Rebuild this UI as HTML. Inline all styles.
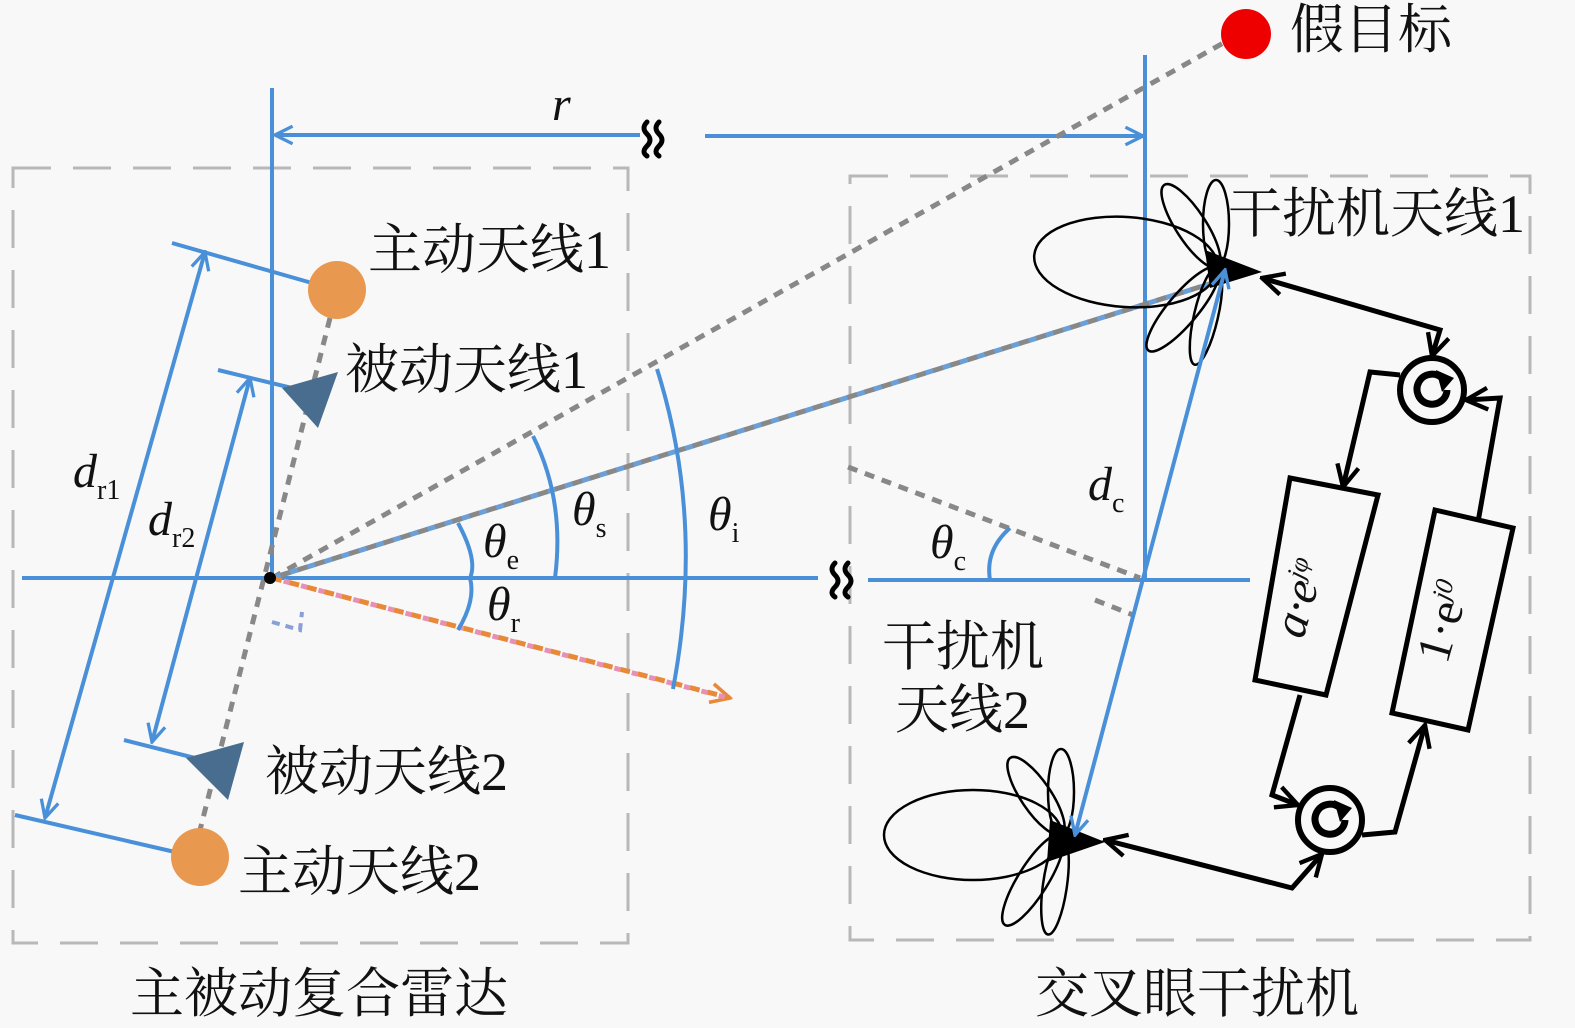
<!DOCTYPE html>
<html><head><meta charset="utf-8"><style>
html,body{margin:0;padding:0;background:#f8f8f8}
svg{display:block}
.cjk{font-family:"Liberation Serif","Noto Serif CJK SC","Noto Sans CJK SC",serif;font-size:54px;fill:#111}
.m{font-family:"Liberation Serif",serif;font-style:italic;font-size:48px;fill:#111}
.s{font-family:"Liberation Serif",serif;font-size:28px;fill:#111;font-style:normal}
</style></head><body>
<svg width="1575" height="1028" viewBox="0 0 1575 1028" xmlns="http://www.w3.org/2000/svg">
<defs>
<marker id="ob" viewBox="0 0 20 20" refX="18" refY="10" markerWidth="22" markerHeight="22" markerUnits="userSpaceOnUse" orient="auto-start-reverse"><path d="M2,2 L18,10 L2,18" fill="none" stroke="#4a90d9" stroke-width="3"/></marker>
<marker id="obk" viewBox="0 0 24 24" refX="22" refY="12" markerWidth="26" markerHeight="26" markerUnits="userSpaceOnUse" orient="auto-start-reverse"><path d="M2,2 L22,12 L2,22" fill="none" stroke="#000" stroke-width="4"/></marker>
<marker id="oo" viewBox="0 0 20 20" refX="18" refY="10" markerWidth="24" markerHeight="24" markerUnits="userSpaceOnUse" orient="auto"><path d="M2,2 L18,10 L2,18" fill="none" stroke="#e8893a" stroke-width="3"/></marker>
</defs>
<rect width="1575" height="1028" fill="#f8f8f8"/>
<rect x="13" y="168" width="615" height="775" fill="none" stroke="#b8b8b8" stroke-width="3" stroke-dasharray="38 22"/>
<rect x="850" y="176" width="680" height="764" fill="none" stroke="#b8b8b8" stroke-width="3" stroke-dasharray="38 22"/>

<g stroke="#4a90d9" stroke-width="4" fill="none">
<line x1="272" y1="88" x2="272" y2="578"/>
<line x1="22" y1="578" x2="818" y2="578"/>
<line x1="868" y1="580" x2="1250" y2="580"/>
<line x1="1145" y1="55" x2="1145" y2="580"/>
<line x1="275" y1="135" x2="640" y2="135" marker-start="url(#ob)"/>
<line x1="705" y1="136" x2="1143" y2="136" marker-end="url(#ob)"/>
</g>
<g stroke="#000" stroke-width="5" fill="none" stroke-linecap="round">
<path d="M647,122 q-6,6 0,12 q6,6 0,12 q-6,6 0,10"/><path d="M659,122 q-6,6 0,12 q6,6 0,12 q-6,6 0,10"/>
<path d="M835,563 q-6,6 0,12 q6,6 0,12 q-6,6 0,10"/><path d="M848,563 q-6,6 0,12 q6,6 0,12 q-6,6 0,10"/>
</g>
<text x="552" y="120" class="m">r</text>

<g fill="none" stroke-width="5">
<line x1="272" y1="578" x2="1225" y2="42" stroke="#888" stroke-dasharray="10 8"/>
<line x1="272" y1="578" x2="1222" y2="280" stroke="#6a9fd8" stroke-dasharray="10 8"/>
<line x1="272" y1="578" x2="1222" y2="280" stroke="#888" stroke-dasharray="10 8" stroke-dashoffset="9"/>
<line x1="272" y1="578" x2="730" y2="698" stroke="#e8893a" stroke-dasharray="10 8" marker-end="url(#oo)"/>
<line x1="272" y1="578" x2="728" y2="698" stroke="#e88fb5" stroke-dasharray="6 12" stroke-dashoffset="6"/>
<line x1="848" y1="467" x2="1140" y2="578" stroke="#888" stroke-dasharray="10 8"/>
<line x1="1095" y1="600" x2="1133" y2="615" stroke="#888" stroke-dasharray="10 8"/>
<line x1="330" y1="318" x2="200" y2="830" stroke="#888" stroke-dasharray="10 8"/>
<path d="M272,622 L300,630 L302,612" stroke="#8a9fd8" stroke-width="4" stroke-dasharray="8 6"/>
</g>
<g fill="none" stroke="#4a90d9" stroke-width="4">
<path d="M458,523 Q478,560 470,578 Q476,600 458,630"/>
<path d="M533,436 Q565,500 555,578"/>
<path d="M657,369 Q705,520 673,689"/>
<path d="M1010,528 Q985,550 990,580"/>
</g>
<text x="483" y="557" class="m">θ<tspan class="s" dy="12">e</tspan></text>
<text x="572" y="525" class="m">θ<tspan class="s" dy="12">s</tspan></text>
<text x="708" y="530" class="m">θ<tspan class="s" dy="12">i</tspan></text>
<text x="487" y="620" class="m">θ<tspan class="s" dy="12">r</tspan></text>
<text x="930" y="558" class="m">θ<tspan class="s" dy="12">c</tspan></text>
<text x="1088" y="500" class="m">d<tspan class="s" dy="12">c</tspan></text>
<text x="73" y="487" class="m">d<tspan class="s" dy="12">r1</tspan></text>
<text x="148" y="535" class="m">d<tspan class="s" dy="12">r2</tspan></text>

<g stroke="#4a90d9" stroke-width="4" fill="none">
<line x1="172" y1="243" x2="312" y2="283"/>
<line x1="15" y1="815" x2="175" y2="852"/>
<line x1="218" y1="370" x2="292" y2="388"/>
<line x1="124" y1="740" x2="195" y2="758"/>
<line x1="205" y1="252" x2="45" y2="818" marker-start="url(#ob)" marker-end="url(#ob)"/>
<line x1="250" y1="378" x2="152" y2="742" marker-start="url(#ob)" marker-end="url(#ob)"/>
</g>
<circle cx="270" cy="578" r="6" fill="#000"/>
<circle cx="337" cy="290" r="29" fill="#e8984f"/>
<circle cx="200" cy="857" r="29" fill="#e8984f"/>
<polygon points="282,388 338,372 318,428" fill="#486d8e"/>
<polygon points="186,758 244,742 228,800" fill="#486d8e"/>
<circle cx="1246" cy="34" r="25" fill="#ee0000"/>

<text x="368" y="268" class="cjk">主动天线1</text>
<text x="345" y="388" class="cjk">被动天线1</text>
<text x="265" y="790" class="cjk">被动天线2</text>
<text x="238" y="890" class="cjk">主动天线2</text>
<text x="1290" y="48" class="cjk">假目标</text>
<text x="1228" y="232" class="cjk">干扰机天线1</text>
<text x="882" y="665" class="cjk">干扰机</text>
<text x="895" y="728" class="cjk">天线2</text>
<text x="130" y="1012" class="cjk">主被动复合雷达</text>
<text x="1035" y="1012" class="cjk">交叉眼干扰机</text>

<g fill="none" stroke="#000" stroke-width="2.5">
<ellipse cx="1126" cy="262" rx="92" ry="45" transform="rotate(4 1126 262)"/>
<ellipse cx="1191" cy="226" rx="49" ry="15" transform="rotate(57 1191 226)"/>
<ellipse cx="1216" cy="224" rx="44" ry="13" transform="rotate(90 1216 224)"/>
<ellipse cx="1183" cy="309" rx="54" ry="15" transform="rotate(130 1183 309)"/>
<ellipse cx="1206" cy="316" rx="50" ry="12" transform="rotate(103 1206 316)"/>
<ellipse cx="973" cy="835" rx="89" ry="45"/>
<ellipse cx="1036" cy="796" rx="46" ry="15" transform="rotate(56 1036 796)"/>
<ellipse cx="1061" cy="792" rx="43" ry="13" transform="rotate(90 1061 792)"/>
<ellipse cx="1033" cy="880" rx="53" ry="15" transform="rotate(122 1033 880)"/>
<ellipse cx="1055" cy="885" rx="50" ry="12" transform="rotate(98 1055 885)"/>
</g>
<polygon points="1205,250 1262,272 1210,288" fill="#000"/>
<polygon points="1050,820 1105,842 1047,862" fill="#000"/>
<line x1="1075" y1="835" x2="1225" y2="270" stroke="#4a90d9" stroke-width="4" marker-start="url(#ob)" marker-end="url(#ob)"/>

<g stroke="#000" stroke-width="5" fill="none">
<polyline points="1262,278 1440,330 1432,356" marker-start="url(#obk)" marker-end="url(#obk)"/>
<circle cx="1432" cy="390" r="32" stroke-width="6"/>
<circle cx="1330" cy="820" r="32" stroke-width="6"/>
<polyline points="1400,375 1370,372 1343,487" marker-end="url(#obk)"/>
<polyline points="1300,695 1272,795 1298,805"  marker-end="url(#obk)"/>
<polyline points="1362,835 1395,832 1425,725" marker-end="url(#obk)"/>
<polyline points="1478,522 1500,398 1466,400" marker-end="url(#obk)"/>
<polyline points="1105,840 1292,888 1322,854" marker-start="url(#obk)" marker-end="url(#obk)"/>
<polygon points="1290,478 1378,495 1326,695 1255,680"/>
<polygon points="1435,510 1513,528 1468,730 1392,713"/>
<path d="M1442,378 a15,15 0 1 0 5,12" stroke-width="7"/><path d="M1340,808 a15,15 0 1 0 5,12" stroke-width="7"/>
</g>
<polygon points="1436,370 1454,378 1442,392" fill="#000"/>
<polygon points="1334,800 1352,808 1340,822" fill="#000"/>
<text class="m" font-size="42" transform="translate(1303,640) rotate(-74)">a·e<tspan font-size="26" dy="-16">jφ</tspan></text>
<text class="m" font-size="42" style="font-style:normal" transform="translate(1447,665) rotate(-74)">1·e<tspan font-size="26" dy="-16" font-style="italic">j0</tspan></text>
</svg>
</body></html>
